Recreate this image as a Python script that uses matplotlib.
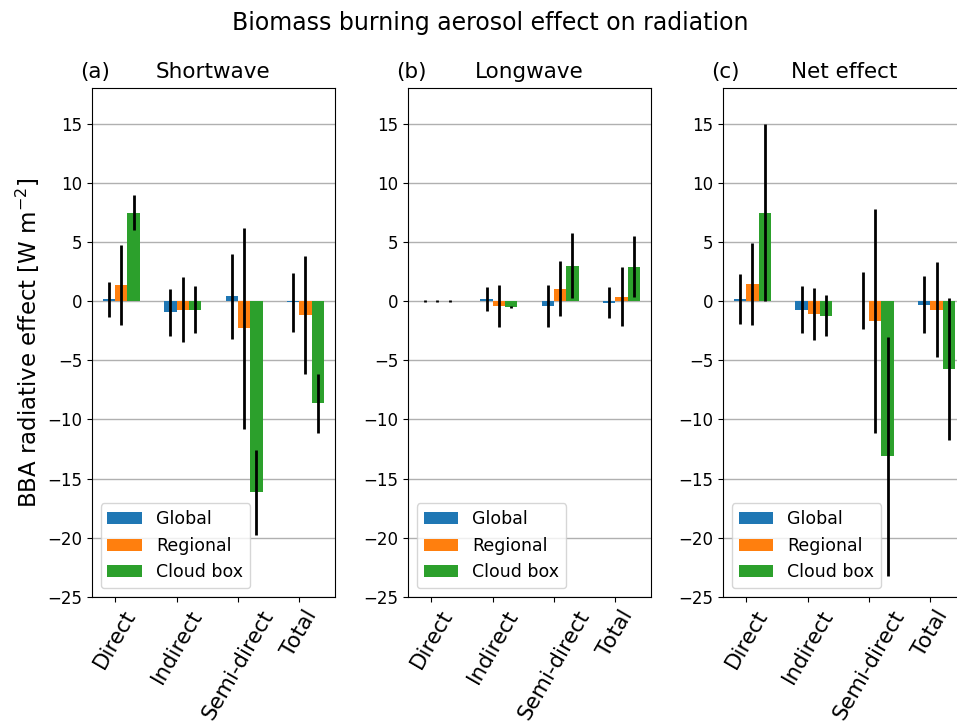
import numpy as np
import matplotlib
matplotlib.use("Agg")
import matplotlib.pyplot as plt

categories = ["Direct", "Indirect", "Semi-direct", "Total"]
series = ["Global", "Regional", "Cloud box"]
panels = ["Shortwave", "Longwave", "Net effect"]
panel_tags = ["(a)", "(b)", "(c)"]

# values per panel: rows = Global, Regional, Cloud box; cols = categories
sw_vals = [[0.15, -0.95, 0.42, -0.12],
           [1.37, -0.72, -2.28, -1.16],
           [7.46, -0.72, -16.16, -8.64]]
sw_errs = [[1.48, 1.98, 3.59, 2.49],
           [3.36, 2.78, 8.49, 5.0],
           [1.47, 1.98, 3.6, 2.5]]

lw_vals = [[0.0, 0.17, -0.42, -0.15],
           [0.0, -0.43, 1.04, 0.37],
           [0.0, -0.51, 3.0, 2.92]]
lw_errs = [[0.08, 0.99, 1.81, 1.31],
           [0.08, 1.76, 2.33, 2.5],
           [0.08, 0.11, 2.73, 2.59]]

net_vals = [[0.17, -0.73, 0.04, -0.3],
            [1.44, -1.1, -1.68, -0.74],
            [7.46, -1.23, -13.13, -5.73]]
net_errs = [[2.09, 1.99, 2.44, 2.42],
            [3.5, 2.19, 9.5, 4.0],
            [7.49, 1.74, 10.07, 5.99]]

all_vals = [sw_vals, lw_vals, net_vals]
all_errs = [sw_errs, lw_errs, net_errs]
colors = ["tab:blue", "tab:orange", "tab:green"]

fig = plt.figure(figsize=(9.57, 7.25), dpi=100)
lefts = [0.096, 0.4263, 0.7555]
x = np.arange(len(categories))
width = 0.2

for p in range(3):
    ax = fig.add_axes([lefts[p], 0.1766, 0.254, 0.702])
    for s in range(3):
        ax.bar(x - width + s * width, all_vals[p][s], width, align="edge",
               color=colors[s], label=series[s])
        ax.errorbar(x - width / 2 + s * width, all_vals[p][s], yerr=all_errs[p][s],
                    fmt="none", ecolor="k", elinewidth=2, capsize=0)
    ax.set_ylim(-25, 18)
    ax.set_yticks(np.arange(-25, 16, 5))
    ax.yaxis.grid(True, color="#b0b0b0", linewidth=1)
    ax.set_axisbelow(True)
    ax.set_xticks(x)
    ax.set_xticklabels(categories, rotation=60, fontsize=15.5)
    ax.tick_params(axis="y", labelsize=12)
    ax.set_title(panels[p], fontsize=15.5, pad=7)
    ax.text(-0.05, 1.012, panel_tags[p], transform=ax.transAxes, fontsize=15.5,
            ha="left", va="bottom")
    ax.legend(loc="lower left", fontsize=12.5)
    if p == 0:
        ax.set_ylabel("BBA radiative effect [W m$^{-2}$]", fontsize=16.5)

fig.suptitle("Biomass burning aerosol effect on radiation", fontsize=17, x=0.512, y=0.985)
fig.savefig("out.png", dpi=100)
